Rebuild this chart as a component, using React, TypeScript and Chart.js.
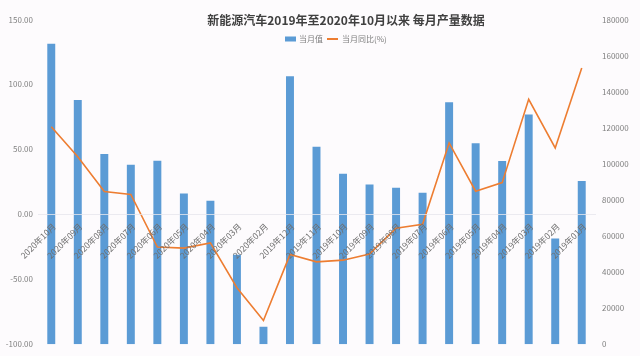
import React, { useEffect, useRef } from 'react';
import { Chart, registerables } from 'chart.js';

Chart.register(...registerables);

const TITLE = '新能源汽车2019年至2020年10月以来 每月产量数据';
const BAR_LABEL = '当月值';
const LINE_LABEL = '当月同比(%)';

const categories = [
  '2020年10月', '2020年09月', '2020年08月', '2020年07月', '2020年06月', '2020年05月',
  '2020年04月', '2020年03月', '2020年02月', '2019年12月', '2019年11月', '2019年10月',
  '2019年09月', '2019年08月', '2019年07月', '2019年06月', '2019年05月', '2019年04月',
  '2019年03月', '2019年02月', '2019年01月',
];

const monthlyOutput = [
  166500, 135400, 105500, 99500, 101700, 83500, 79500, 49600, 9700, 148600, 109500,
  94500, 88500, 86700, 83900, 134100, 111400, 101500, 127300, 58600, 90500,
];

const yoyPercent = [
  67.4, 44.3, 17.6, 15.3, -25.2, -26.0, -22.0, -56.5, -81.7, -31.0, -36.6,
  -35.3, -30.5, -10.7, -7.6, 55.0, 17.8, 24.4, 88.5, 51.1, 112.7,
];

const leftAxis = { min: -100, max: 150, step: 50 };
const rightAxis = { min: 0, max: 180000, step: 20000 };

const FONT = '"Noto Sans CJK SC", "Noto Sans", sans-serif';
const BLUE = '#5B9BD5';
const ORANGE = '#ED7D31';
const GRAY = '#808080';

const overlayPlugin = {
  id: 'overlay',
  afterDraw(chart: any) {
    const ctx = chart.ctx;
    ctx.save();
    ctx.font = `bold 12px ${FONT}`;
    ctx.fillStyle = '#404040';
    ctx.textAlign = 'center';
    ctx.textBaseline = 'middle';
    ctx.fillText(TITLE, 346, 20);

    ctx.font = `8px ${FONT}`;
    ctx.textAlign = 'left';
    ctx.fillStyle = BLUE;
    ctx.fillRect(285, 36.5, 11, 5);
    ctx.fillStyle = GRAY;
    ctx.fillText(BAR_LABEL, 299, 39);
    ctx.strokeStyle = ORANGE;
    ctx.lineWidth = 2;
    ctx.beginPath();
    ctx.moveTo(327, 39);
    ctx.lineTo(338, 39);
    ctx.stroke();
    ctx.fillStyle = GRAY;
    ctx.fillText(LINE_LABEL, 342, 39);
    ctx.restore();
  },
};

export default function App() {
  const ref = useRef<HTMLCanvasElement | null>(null);

  useEffect(() => {
    const canvas = ref.current;
    if (!canvas) return;
    const chart = new Chart(canvas, {
      type: 'bar',
      data: {
        labels: categories,
        datasets: [
          {
            type: 'line',
            label: LINE_LABEL,
            data: yoyPercent,
            yAxisID: 'y',
            borderColor: ORANGE,
            backgroundColor: ORANGE,
            borderWidth: 1.6,
            pointRadius: 0,
            tension: 0,
            order: 1,
          } as any,
          {
            type: 'bar',
            label: BAR_LABEL,
            data: monthlyOutput,
            yAxisID: 'y1',
            backgroundColor: BLUE,
            barPercentage: 0.6,
            categoryPercentage: 0.5,
            order: 2,
          },
        ],
      },
      options: {
        responsive: false,
        animation: false,
        devicePixelRatio: 1,
        layout: { padding: { top: 19.5, bottom: 9, left: 0, right: 0 } },
        plugins: {
          legend: { display: false },
          title: { display: false },
          tooltip: { enabled: false },
        },
        scales: {
          x: {
            position: { y: 0 } as any,
            grid: { display: false, drawTicks: false },
            border: { display: true, color: 'rgba(230,230,236,0.8)', width: 1, z: 1 },
            ticks: {
              z: 1,
              color: '#6e6e6e',
              font: { family: FONT, size: 8.5 },
              minRotation: 45,
              maxRotation: 45,
              autoSkip: false,
              padding: 7,
              labelOffset: 3,
            },
          } as any,
          y: {
            position: 'left',
            min: leftAxis.min,
            max: leftAxis.max,
            grid: { display: false, drawTicks: false },
            border: { display: false },
            ticks: {
              stepSize: leftAxis.step,
              color: GRAY,
              font: { family: FONT, size: 8 },
              padding: 5,
              callback: (v: any) => Number(v).toFixed(2),
            },
            afterFit: (s: any) => { s.width = 38; },
          },
          y1: {
            position: 'right',
            min: rightAxis.min,
            max: rightAxis.max,
            grid: { display: false, drawTicks: false },
            border: { display: false },
            ticks: {
              stepSize: rightAxis.step,
              color: GRAY,
              font: { family: FONT, size: 8 },
              padding: 7,
              callback: (v: any) => String(v),
            },
            afterFit: (s: any) => { s.width = 45; },
          },
        },
      },
      plugins: [overlayPlugin],
    });
    return () => chart.destroy();
  }, []);

  return (
    <div style={{ position: 'fixed', left: 0, top: 0, width: 640, height: 356, background: '#fdfbfd' }}>
      <canvas ref={ref} width={640} height={356} style={{ display: 'block' }} />
    </div>
  );
}
